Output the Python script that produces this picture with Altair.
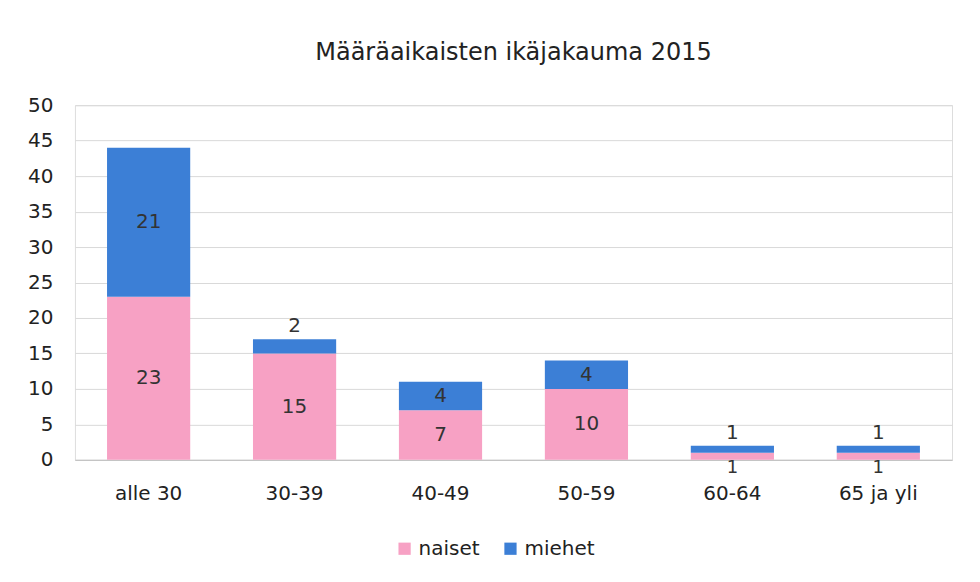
import altair as alt
import pandas as pd

categories = ["alle 30", "30-39", "40-49", "50-59", "60-64", "65 ja yli"]
naiset = [23, 15, 7, 10, 1, 1]
miehet = [21, 2, 4, 4, 1, 1]
series = ["naiset", "miehet"]
colors = ["#f7a1c4", "#3c7fd6"]
y_ticks = [0, 5, 10, 15, 20, 25, 30, 35, 40, 45, 50]

rows = []
for c, n, m in zip(categories, naiset, miehet):
    rows.append({"cat": c, "series": "naiset", "ord": 0, "value": n})
    rows.append({"cat": c, "series": "miehet", "ord": 1, "value": m})
df = pd.DataFrame(rows)

FONT = "DejaVu Sans"
FS = 20
base = alt.Chart(df)

x_enc = alt.X("cat:N", sort=categories, title=None,
              scale=alt.Scale(paddingInner=0.43, paddingOuter=0.22),
              axis=alt.Axis(labelAngle=0, ticks=False, domain=True, domainColor="#bfbfbf",
                            labelFontSize=FS, labelColor="#222", labelPadding=24, labelFont=FONT))
y_axis = alt.Axis(values=y_ticks, ticks=False, domain=False, labelOverlap=False,
                  gridColor="#d9d9d9", labelFontSize=FS, labelColor="#222",
                  labelPadding=22, labelFont=FONT, tickCount=11)
y_scale = alt.Scale(domain=[0, 50], nice=False)

bars = base.mark_bar().encode(
    x=x_enc,
    y=alt.Y("value:Q", stack="zero", title=None, scale=y_scale, axis=y_axis),
    color=alt.Color("series:N", scale=alt.Scale(domain=series, range=colors),
                    legend=alt.Legend(orient="none", legendX=320, legendY=434, title=None,
                                      direction="horizontal",
                                      symbolType="square", symbolSize=150, labelFontSize=FS,
                                      labelFont=FONT, labelColor="#222",
                                      symbolStrokeWidth=0, columnPadding=20)),
    order=alt.Order("ord:Q"),
)

stacked = base.transform_stack(
    stack="value", groupby=["cat"], sort=[alt.SortField("ord")], as_=["y0", "y1"]
).transform_joinaggregate(total="sum(value)", groupby=["cat"]).transform_calculate(
    mid="(datum.y0 + datum.y1) / 2"
)

txt_style = dict(fontSize=FS, font=FONT, color="#333")

center_labels = stacked.transform_filter(
    "datum.total >= 5 && !(datum.ord == 1 && datum.value <= 2)"
).mark_text(**txt_style).encode(
    x=x_enc,
    y=alt.Y("mid:Q", title=None, scale=y_scale, axis=y_axis),
    text="value:Q",
)
low_labels = stacked.transform_filter("datum.total < 5 && datum.ord == 0").mark_text(
    baseline="top", dy=-1, fontSize=18, font=FONT, color="#333").encode(
    x=x_enc,
    y=alt.Y("y0:Q", title=None, scale=y_scale, axis=y_axis),
    text="value:Q",
)
high_labels = stacked.transform_filter("datum.ord == 1 && datum.value <= 2").mark_text(
    baseline="bottom", dy=-3, **txt_style).encode(
    x=x_enc,
    y=alt.Y("y1:Q", title=None, scale=y_scale, axis=y_axis),
    text="value:Q",
)

chart = alt.layer(bars, center_labels, low_labels, high_labels).properties(
    width=878, height=355,
    title=alt.TitleParams("Määräaikaisten ikäjakauma 2015", fontSize=24, font=FONT,
                          fontWeight="normal", color="#222", offset=30),
    padding={"left": 19, "top": 33, "right": 20, "bottom": 10},
).configure_view(stroke=None).configure(background="white")

chart.save("out.html", embed_options={"renderer": "svg", "actions": False})
